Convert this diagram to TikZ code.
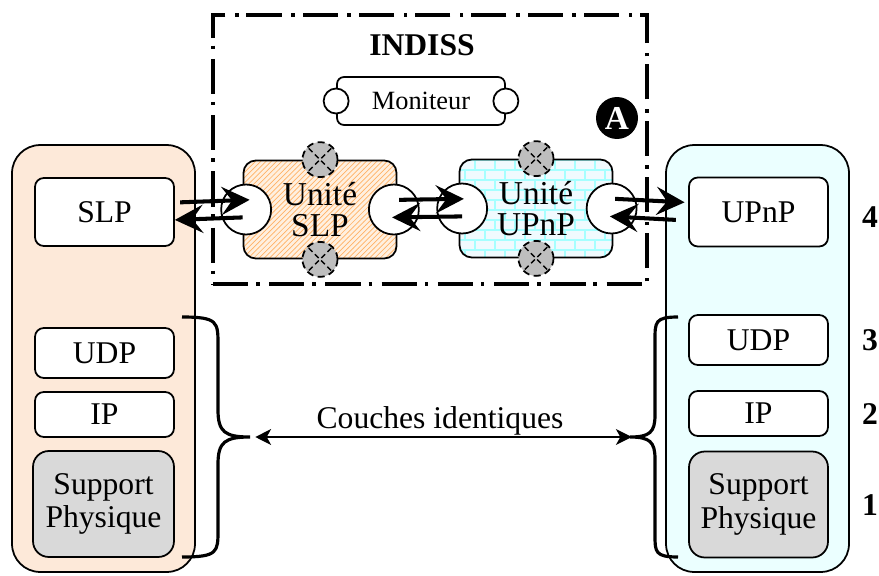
\documentclass[tikz,border=0pt]{standalone}
\usepackage{fontspec}
\setmainfont{Liberation Serif}
\usetikzlibrary{arrows.meta,patterns}
\definecolor{peche}{RGB}{253,233,217}
\definecolor{ciel}{RGB}{235,255,255}
\definecolor{grisclair}{RGB}{217,217,217}
\definecolor{grisport}{RGB}{190,190,190}
\tikzset{
  pile/.style={draw, line width=1pt, rounded corners=16pt, minimum width=3.66cm, minimum height=8.54cm},
  couche/.style={draw, line width=1pt, fill=white, rounded corners=5pt, minimum width=2.78cm, inner sep=0pt, font=\fontsize{18}{21}\selectfont},
  physique/.style={couche, fill=grisclair, rounded corners=9pt, minimum height=2.12cm, align=center, font=\fontsize{18}{19}\selectfont},
  unite/.style={draw, line width=1pt, rounded corners=7pt, minimum width=3.06cm, minimum height=1.96cm, align=center, inner sep=0pt, font=\fontsize{19}{18}\selectfont},
  port/.style={circle, draw, line width=1pt, fill=white, minimum size=1.0cm, inner sep=0pt},
  petitport/.style={circle, draw, line width=1pt, fill=white, minimum size=0.5cm, inner sep=0pt},
  bouchon/.style={circle, draw, dash pattern=on 4pt off 2.5pt, line width=1pt, fill=grisport, minimum size=0.7cm, inner sep=0pt,
    path picture={\draw[dash pattern=on 3pt off 2pt, line width=0.8pt] (path picture bounding box.north west) -- (path picture bounding box.south east)
      (path picture bounding box.north east) -- (path picture bounding box.south west);}},
  cadre/.style={draw, line width=2pt, dash pattern=on 20pt off 4.5pt on 2pt off 5.5pt, minimum width=8.68cm, minimum height=5.38cm},
  pointe/.tip={Stealth[length=16pt 0, width=16pt 0, inset=6pt 0]},
  petitepointe/.tip={Stealth[length=9pt 0, width=9pt 0, inset=2.5pt 0]},
  fleche/.style={line width=2.3pt, -pointe},
  accolade/.style={line width=1.8pt},
  numero/.style={font=\fontsize{18}{21}\selectfont\bfseries},
  badge/.style={circle, fill=black, text=white, minimum size=0.84cm, inner sep=0pt, font=\fontsize{19}{19}\selectfont\bfseries}
}
\begin{document}
\begin{tikzpicture}[x=0.02cm, y=-0.02cm]
  \useasboundingbox (0,0) rectangle (879,575);
  % piles protocolaires
  \node[pile, fill=peche] (pileG) at (103.5,358.5) {};
  \node[pile, fill=ciel] (pileD) at (757.5,358.5) {};
  % couches de gauche
  \node[couche, minimum height=1.36cm] (slp) at (104.5,212) {SLP};
  \node[couche, minimum height=1.0cm] (udpG) at (104.5,353) {UDP};
  \node[couche, minimum height=0.9cm] (ipG) at (104.5,414.5) {IP};
  \node[physique, minimum width=2.82cm] (supG) at (103.5,504) {Support\\Physique};
  % couches de droite
  \node[couche, minimum height=1.38cm] (upnp) at (758.5,212) {UPnP};
  \node[couche, minimum height=1.0cm] (udpD) at (758.5,340) {UDP};
  \node[couche, minimum height=0.9cm] (ipD) at (758.5,413.5) {IP};
  \node[physique] (supD) at (758.5,504.5) {Support\\Physique};
  % numeros des niveaux
  \node[numero] (n4) at (870,217) {4};
  \node[numero] (n3) at (870,340) {3};
  \node[numero] (n2) at (870,414) {2};
  \node[numero] (n1) at (870,505) {1};
  % INDISS
  \node[cadre] (indiss) at (430,149.5) {};
  \node[font=\fontsize{18}{21}\selectfont\bfseries] (titre) at (422,45) {INDISS};
  \node[draw, line width=1pt, rounded corners=4pt, minimum width=3.36cm, minimum height=0.96cm, font=\fontsize{15}{18}\selectfont] (moniteur) at (421,101) {Moniteur};
  \node[petitport] (monG) at (moniteur.west) {};
  \node[petitport] (monD) at (moniteur.east) {};
  \node[badge] (marqueA) at (617,118) {A};
  % unites
  \node[unite, preaction={fill=orange!12}, pattern=north east lines, pattern color=orange!60] (uSLP) at (320,209.5) {Unité\\SLP};
  \node[unite, preaction={fill=cyan!6}, pattern=bricks, pattern color=cyan!35] (uUPnP) at (536,208.5) {Unité\\UPnP};
  \node[bouchon] (bSLPh) at (uSLP.north) {};
  \node[bouchon] (bSLPb) at (uSLP.south) {};
  \node[bouchon] (bUPnPh) at (uUPnP.north) {};
  \node[bouchon] (bUPnPb) at (uUPnP.south) {};
  \node[port] (pSLPg) at ([xshift=2pt]uSLP.west) {};
  \node[port] (pSLPd) at ([xshift=-2pt]uSLP.east) {};
  \node[port] (pUPnPg) at ([xshift=2pt]uUPnP.west) {};
  \node[port] (pUPnPd) at ([xshift=-1pt]uUPnP.east) {};
  % echanges
  \draw[fleche] ([xshift=3pt, yshift=5.5pt]slp.east) -- ([xshift=2pt, yshift=5.5pt]pSLPg.center);
  \draw[fleche] ([xshift=-2pt, yshift=-4.5pt]pSLPg.center) -- ([yshift=-4.5pt]slp.east);
  \draw[fleche] ([xshift=3pt, yshift=5.5pt]pSLPd.center) -- ([xshift=1pt, yshift=5.5pt]pUPnPg.center);
  \draw[fleche] ([yshift=-4.5pt]pUPnPg.center) -- ([xshift=-1pt, yshift=-4.5pt]pSLPd.center);
  \draw[fleche] ([xshift=2pt, yshift=5.5pt]pUPnPd.center) -- ([xshift=-2pt, yshift=5.5pt]upnp.west);
  \draw[fleche] ([xshift=-7pt, yshift=-4.5pt]upnp.west) -- ([xshift=-1pt, yshift=-4.5pt]pUPnPd.center);
  % accolades
  \coordinate (pointeG) at (250,437);
  \coordinate (pointeD) at (630,437);
  \draw[accolade] (182,317) .. controls (218,317) and (218,322) .. (218,345) -- (218,410)
    .. controls (218,432) and (225,437) .. (pointeG) .. controls (225,437) and (218,442) .. (218,464)
    -- (218,530) .. controls (218,552) and (218,557) .. (182,557);
  \draw[accolade] (678,317) .. controls (655,317) and (655,322) .. (655,340) -- (655,415)
    .. controls (655,432) and (650,437) .. (pointeD) .. controls (650,437) and (655,442) .. (655,459)
    -- (655,535) .. controls (655,552) and (655,557) .. (678,557);
  \draw[line width=0.9pt, petitepointe-petitepointe, shorten <=3pt, shorten >=-1pt]
    (pointeG) -- node[above, font=\fontsize{18}{21}\selectfont, inner sep=0.5pt] (couches) {Couches identiques} (pointeD);
\end{tikzpicture}
\end{document}
